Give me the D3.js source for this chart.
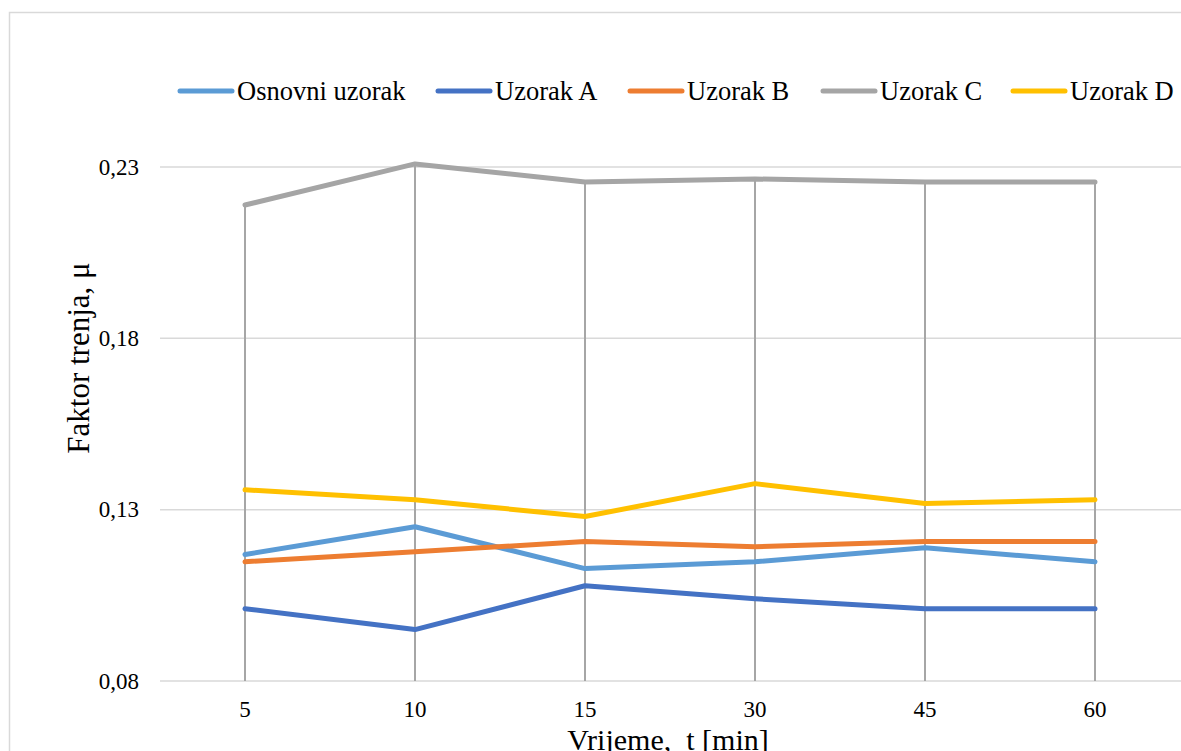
<!DOCTYPE html>
<html>
<head>
<meta charset="utf-8">
<script src="https://cdn.jsdelivr.net/npm/d3@7"></script>
<style>
  body { margin: 0; background: #fff; }
</style>
</head>
<body>
<div id="chart"></div>
<script>
var categories = ["5", "10", "15", "30", "45", "60"];
var seriesNames = ["Osnovni uzorak", "Uzorak A", "Uzorak B", "Uzorak C", "Uzorak D"];
var osnovni = [0.1169, 0.1250, 0.1128, 0.1148, 0.1189, 0.1148];
var uzorakA = [0.1011, 0.0950, 0.1078, 0.1040, 0.1011, 0.1011];
var uzorakB = [0.1148, 0.1177, 0.1207, 0.1192, 0.1207, 0.1207];
var uzorakC = [0.2189, 0.2309, 0.2256, 0.2265, 0.2256, 0.2256];
var uzorakD = [0.1358, 0.1329, 0.1280, 0.1376, 0.1318, 0.1329];
var yTicks = [0.08, 0.13, 0.18, 0.23];
var colors = ["#5B9BD5", "#4472C4", "#ED7D31", "#A5A5A5", "#FFC000"];

var allSeries = [osnovni, uzorakA, uzorakB, uzorakC, uzorakD];

var width = 1181, height = 751;
var serif = "'Liberation Serif'";

var svg = d3.select("#chart")
    .append("svg")
    .attr("width", width)
    .attr("height", height);

// chart border
svg.append("rect")
    .attr("x", 9.5).attr("y", 12.5)
    .attr("width", 1200).attr("height", 800)
    .attr("fill", "none")
    .attr("stroke", "#d9d9d9")
    .attr("stroke-width", 1.5);

var x = d3.scaleBand()
    .domain(categories)
    .range([160, 160 + 170 * categories.length]);

var y = d3.scaleLinear()
    .domain([0.08, 0.23])
    .range([681, 167]);

var cx = function(c) { return x(c) + x.bandwidth() / 2; };

// gridlines
svg.append("g")
    .selectAll("line")
    .data(yTicks.slice(1))
    .enter()
    .append("line")
    .attr("x1", 160).attr("x2", width)
    .attr("y1", function(d) { return y(d); })
    .attr("y2", function(d) { return y(d); })
    .attr("stroke", "#d9d9d9")
    .attr("stroke-width", 1.5);

// x axis line
svg.append("line")
    .attr("x1", 160).attr("x2", width)
    .attr("y1", y(0.08)).attr("y2", y(0.08))
    .attr("stroke", "#d9d9d9")
    .attr("stroke-width", 1.5);

// drop lines (from highest value down to axis)
svg.append("g")
    .selectAll("line")
    .data(categories)
    .enter()
    .append("line")
    .attr("x1", cx).attr("x2", cx)
    .attr("y1", function(d, i) { return y(d3.max(allSeries, function(s) { return s[i]; })); })
    .attr("y2", y(0.08))
    .attr("stroke", "#a6a6a6")
    .attr("stroke-width", 2);

// y tick labels
svg.append("g")
    .selectAll("text")
    .data(yTicks)
    .enter()
    .append("text")
    .attr("x", 139)
    .attr("y", function(d) { return y(d); })
    .attr("dy", "0.33em")
    .attr("text-anchor", "end")
    .attr("font-family", serif)
    .attr("font-size", 23)
    .attr("fill", "#000")
    .text(function(d) { return d3.format(".2f")(d).replace(".", ","); });

// x tick labels
svg.append("g")
    .selectAll("text")
    .data(categories)
    .enter()
    .append("text")
    .attr("x", cx)
    .attr("y", 717)
    .attr("text-anchor", "middle")
    .attr("font-family", serif)
    .attr("font-size", 23)
    .attr("fill", "#000")
    .text(function(d) { return d; });

// series lines
var line = d3.line()
    .x(function(d, i) { return cx(categories[i]); })
    .y(function(d) { return y(d); });

svg.append("g")
    .selectAll("path")
    .data(allSeries)
    .enter()
    .append("path")
    .attr("d", line)
    .attr("fill", "none")
    .attr("stroke", function(d, i) { return colors[i]; })
    .attr("stroke-width", 5)
    .attr("stroke-linejoin", "round")
    .attr("stroke-linecap", "round");

// axis titles
svg.append("text")
    .attr("x", 668)
    .attr("y", 750)
    .attr("text-anchor", "middle")
    .attr("font-family", serif)
    .attr("font-size", 30)
    .attr("fill", "#000")
    .style("white-space", "pre")
    .text("Vrijeme,  t [min]");

svg.append("text")
    .attr("transform", "translate(89,358) rotate(-90)")
    .attr("text-anchor", "middle")
    .attr("font-family", serif)
    .attr("font-size", 31)
    .attr("fill", "#000")
    .text("Faktor trenja, μ");

// legend
var legendX = [180, 438, 630, 823, 1013];
var legend = svg.append("g")
    .selectAll("g")
    .data(seriesNames)
    .enter()
    .append("g")
    .attr("transform", function(d, i) { return "translate(" + legendX[i] + ",91)"; });

legend.append("line")
    .attr("x1", 0).attr("x2", 52)
    .attr("stroke", function(d, i) { return colors[i]; })
    .attr("stroke-width", 5)
    .attr("stroke-linecap", "round");

legend.append("text")
    .attr("x", 57)
    .attr("dy", "0.33em")
    .attr("font-family", serif)
    .attr("font-size", 26.5)
    .attr("fill", "#000")
    .text(function(d) { return d; });
</script>
</body>
</html>
